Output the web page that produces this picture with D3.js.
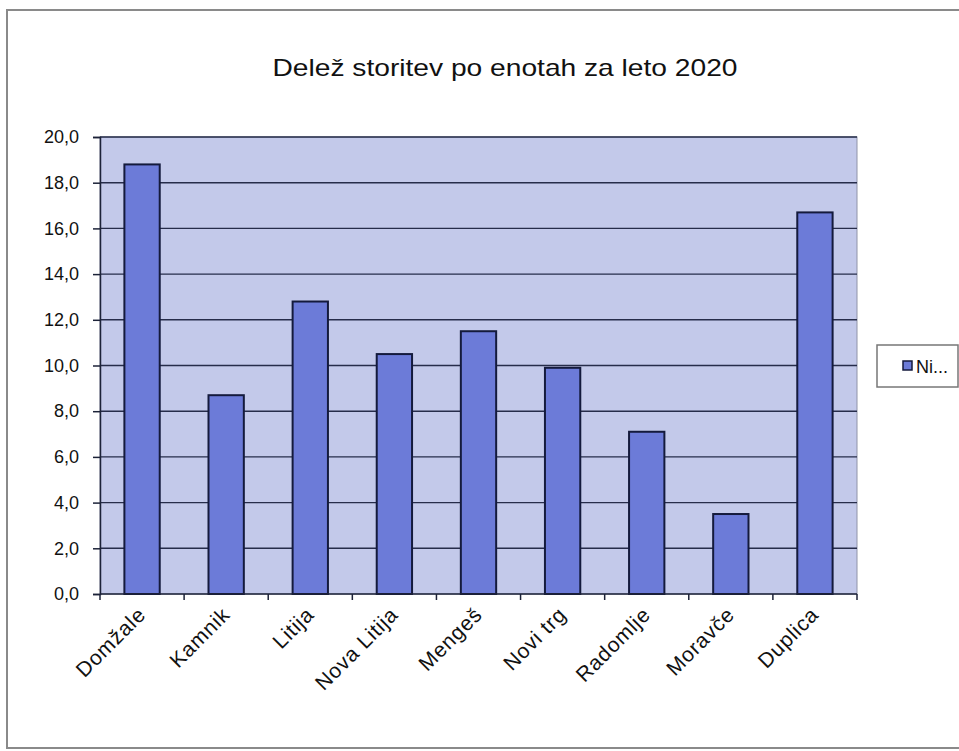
<!DOCTYPE html>
<html>
<head>
<meta charset="utf-8">
<script src="https://cdn.jsdelivr.net/npm/d3@7"></script>
<style>
  body { margin: 0; background: #fff; }
  text { font-family: "Liberation Sans", Arial, sans-serif; fill: #111; }
</style>
</head>
<body>
<div id="chart"></div>
<script>
var categories = ['Domžale', 'Kamnik', 'Litija', 'Nova Litija', 'Mengeš', 'Novi trg', 'Radomlje', 'Moravče', 'Duplica'];
var values = [18.8, 8.7, 12.8, 10.5, 11.5, 9.9, 7.1, 3.5, 16.7];
var yTicks = [0, 2, 4, 6, 8, 10, 12, 14, 16, 18, 20];
var seriesName = 'Ni...';
var title = 'Delež storitev po enotah za leto 2020';

var width = 959, height = 751;
var plotLeft = 100, plotRight = 857, plotTop = 137, plotBottom = 594;

var svg = d3.select("#chart").append("svg").attr("width", width).attr("height", height);

// outer chart frame
svg.append("rect").attr("x", 7).attr("y", 10).attr("width", 970).attr("height", 738)
    .attr("fill", "none").attr("stroke", "#8a8a8a").attr("stroke-width", 2);

svg.append("text").attr("x", 505).attr("y", 76).attr("text-anchor", "middle")
    .attr("textLength", 465).attr("lengthAdjust", "spacingAndGlyphs")
    .style("font-size", "24px").text(title);

var x = d3.scaleBand().domain(categories).range([plotLeft, plotRight]).paddingInner(0.58).paddingOuter(0.29);
var y = d3.scaleLinear().domain([0, 20]).range([plotBottom, plotTop]);

// plot area
svg.append("rect").attr("x", plotLeft).attr("y", plotTop).attr("width", plotRight - plotLeft).attr("height", plotBottom - plotTop)
    .attr("fill", "#c3c9ea").attr("stroke", "#8f93a8").attr("stroke-width", 1);

// gridlines
svg.selectAll(".grid").data(yTicks.filter(function(d) { return d > 0; })).enter().append("line")
    .attr("x1", plotLeft).attr("x2", plotRight)
    .attr("y1", function(d) { return y(d); }).attr("y2", function(d) { return y(d); })
    .attr("stroke", "#262c4a").attr("stroke-width", 1.4);

// bars
svg.selectAll(".bar").data(values).enter().append("rect")
    .attr("x", function(d, i) { return x(categories[i]); })
    .attr("y", function(d) { return y(d); })
    .attr("width", x.bandwidth())
    .attr("height", function(d) { return plotBottom - y(d); })
    .attr("fill", "#6c7bd8").attr("stroke", "#141a3c").attr("stroke-width", 2);

// y axis
var yAxis = svg.append("g").attr("transform", "translate(" + plotLeft + ",0)")
    .call(d3.axisLeft(y).tickValues(yTicks).tickSize(7).tickPadding(14)
        .tickFormat(function(d) { return d3.format(".1f")(d).replace(".", ","); }));
yAxis.select(".domain").attr("stroke", "#1c2238").attr("stroke-width", 1.5);
yAxis.selectAll(".tick line").attr("stroke", "#1c2238").attr("stroke-width", 1.5);
yAxis.selectAll(".tick text").style("font-size", "18px").style("font-family", "Liberation Sans, Arial, sans-serif").attr("fill", "#111");

// x axis baseline and category separators
svg.append("line").attr("x1", plotLeft).attr("x2", plotRight).attr("y1", plotBottom).attr("y2", plotBottom)
    .attr("stroke", "#1c2238").attr("stroke-width", 1.5);
var step = x.step();
var bounds = categories.map(function(c) { return x(c) - step * 0.29; }).concat([plotRight]);
svg.selectAll(".xtick").data(bounds).enter().append("line")
    .attr("x1", function(d) { return d; }).attr("x2", function(d) { return d; })
    .attr("y1", plotBottom).attr("y2", plotBottom + 6)
    .attr("stroke", "#1c2238").attr("stroke-width", 1.5);

svg.selectAll(".xlab").data(categories).enter().append("text")
    .attr("transform", function(d) { return "translate(" + (x(d) + x.bandwidth() / 2 + 5) + "," + (plotBottom + 22) + ") rotate(-45)"; })
    .attr("text-anchor", "end")
    .style("font-size", "21px")
    .style("letter-spacing", "0.8px")
    .text(function(d) { return d; });

// legend
svg.append("rect").attr("x", 877).attr("y", 345).attr("width", 81).attr("height", 42)
    .attr("fill", "#fff").attr("stroke", "#777").attr("stroke-width", 1.5);
svg.append("rect").attr("x", 903).attr("y", 361).attr("width", 9).attr("height", 9)
    .attr("fill", "#6c7bd8").attr("stroke", "#141a3c").attr("stroke-width", 1.5);
svg.append("text").attr("x", 916).attr("y", 373).style("font-size", "18px").text(seriesName);
</script>
</body>
</html>
